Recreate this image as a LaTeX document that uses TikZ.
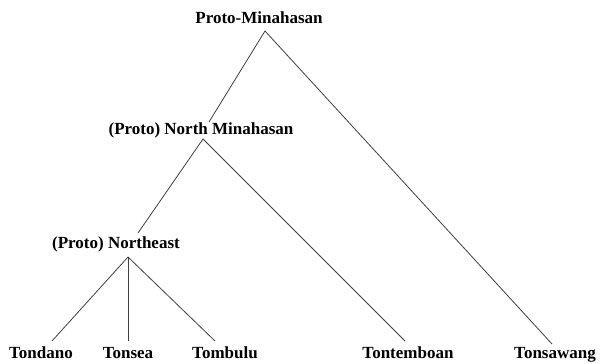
\documentclass[tikz,border=0pt]{standalone}
\usepackage{fontspec}
\setmainfont{Liberation Serif}
\begin{document}
\begin{tikzpicture}[x=1pt,y=-1pt,
  lbl/.style={font=\fontsize{17}{20}\selectfont\bfseries, anchor=base, inner sep=0pt},
  branch/.style={draw=black!75, line width=0.8pt}]
\useasboundingbox (0,0) rectangle (600,363);
\fill[white] (0,0) rectangle (600,363);
% labels
\node[lbl] (pm) at (259,24) {Proto-Minahasan};
\node[lbl] (nm) at (201,135) {(Proto) North Minahasan};
\node[lbl] (ne) at (116,249) {(Proto) Northeast};
\node[lbl] (tdo) at (41,359) {Tondano};
\node[lbl] (tse) at (128,359) {Tonsea};
\node[lbl] (tbu) at (225,359) {Tombulu};
\node[lbl] (tte) at (408,359) {Tontemboan};
\node[lbl] (tsw) at (555,359) {Tonsawang};
% branch points
\coordinate (pmA) at (265,31);
\coordinate (nmT) at (209,122);
\coordinate (nmA) at (203,139);
\coordinate (neT) at (138,233);
\coordinate (neA) at (128,257);
\coordinate (tdoT) at (52,341);
\coordinate (tseT) at (128,341);
\coordinate (tbuT) at (215,341);
\coordinate (tteT) at (405,341);
\coordinate (tswT) at (552,344);
% connectors
\draw[branch] (nmT) -- (pmA) -- (tswT);
\draw[branch] (neT) -- (nmA) -- (tteT);
\draw[branch] (neA) -- (tdoT);
\draw[branch] (neA) -- (tseT);
\draw[branch] (neA) -- (tbuT);
\end{tikzpicture}
\end{document}
